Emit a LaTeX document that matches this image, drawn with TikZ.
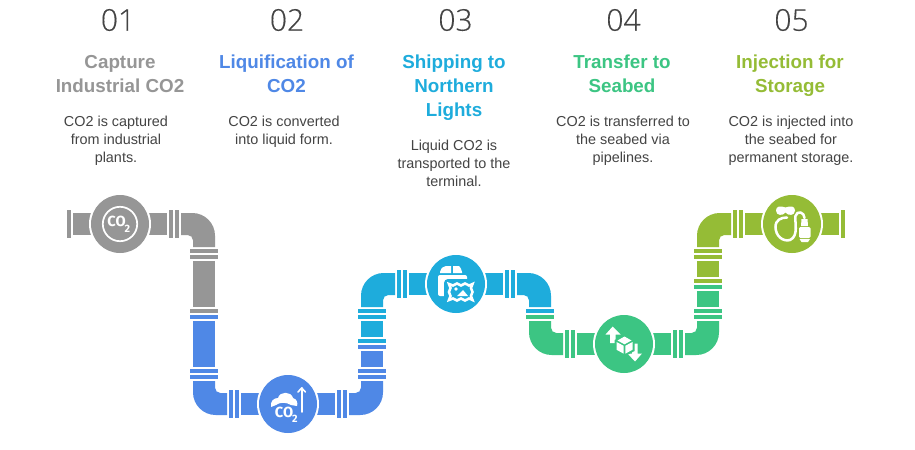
\documentclass[tikz,border=0pt]{standalone}
\usepackage{fontspec}
\setmainfont{Liberation Sans}
\newfontfamily\numfont[FakeBold=0.25]{Open Sans Light}
\newfontfamily\iconfont{Fira Sans}
\definecolor{cgray}{HTML}{969696}
\definecolor{cblue}{HTML}{4F88E6}
\definecolor{ccyan}{HTML}{1EACDC}
\definecolor{cgreen}{HTML}{3CC583}
\definecolor{colive}{HTML}{95BC36}
\definecolor{ctext}{HTML}{444444}
\tikzset{
  numtext/.style={text=ctext,font=\numfont\fontsize{22.5}{27}\selectfont,inner sep=0pt},
  titletext/.style={font=\bfseries\fontsize{14.1}{18}\selectfont,align=center,inner sep=0pt},
  bodytext/.style={text=ctext,font=\fontsize{10.8}{13.5}\selectfont,align=center,inner sep=0pt},
  icontext/.style={text=white,font=\iconfont\bfseries\fontsize{#1}{#1}\selectfont,inner sep=0pt},
  iconline/.style={draw=white,line width=1.35pt,line cap=round,line join=round},
}
% flange across a horizontal run (upright bar): left x, centre y
\newcommand{\flangeV}[3]{\fill[#3] (#1,#2-14) rectangle ++(4,28);}
% flange across a vertical run (flat bar): centre x, top y
\newcommand{\flangeH}[3]{\fill[#3] (#1-14,#2) rectangle ++(28,4);}
\newcommand{\pipehub}[3]{\fill[white] (#1,#2) circle[radius=31]; \fill[#3] (#1,#2) circle[radius=29];}
\begin{document}
\begin{tikzpicture}[x=0.75pt,y=-0.75pt]
\useasboundingbox (0,0) rectangle (915,450);
\fill[white] (0,0) rectangle (915,450);

% ---------- Gray section
\fill[cgray] (67,210) rectangle (71,238);
\fill[cgray] (73,213) rectangle (167,235);
\flangeV{169}{224}{cgray}\flangeV{175}{224}{cgray}
\fill[cgray] (181,213) {[rounded corners=17pt] -- (215,213)} -- (215,247) -- (193,247) {[rounded corners=4pt] -- (193,235)} -- (181,235) -- cycle;
\flangeH{204}{249}{cgray}\flangeH{204}{255}{cgray}
\fill[cgray] (193,261) rectangle (215,307);
\flangeH{204}{309}{cgray}
\pipehub{120}{224}{cgray}

% ---------- Blue section
\flangeH{204}{315}{cblue}
\fill[cblue] (193,321) rectangle (215,367);
\flangeH{204}{369}{cblue}\flangeH{204}{375}{cblue}
\fill[cblue] (193,381) {[rounded corners=17pt] -- (193,415)} -- (227,415) -- (227,393) {[rounded corners=4pt] -- (215,393)} -- (215,381) -- cycle;
\flangeV{229}{404}{cblue}\flangeV{235}{404}{cblue}
\fill[cblue] (241,393) rectangle (335,415);
\flangeV{337}{404}{cblue}\flangeV{343}{404}{cblue}
\fill[cblue] (349,393) {[rounded corners=4pt] -- (361,393)} -- (361,381) -- (383,381) {[rounded corners=17pt] -- (383,415)} -- (349,415) -- cycle;
\flangeH{372}{375}{cblue}\flangeH{372}{369}{cblue}
\fill[cblue] (361,351) rectangle (383,367);
\flangeH{372}{345}{cblue}
\pipehub{288}{404}{cblue}

% ---------- Cyan section
\flangeH{372}{339}{ccyan}
\fill[ccyan] (361,321) rectangle (383,337);
\flangeH{372}{315}{ccyan}\flangeH{372}{309}{ccyan}
\fill[ccyan] (361,307) {[rounded corners=17pt] -- (361,273)} -- (395,273) -- (395,295) {[rounded corners=4pt] -- (383,295)} -- (383,307) -- cycle;
\flangeV{397}{284}{ccyan}\flangeV{403}{284}{ccyan}
\fill[ccyan] (409,273) rectangle (503,295);
\flangeV{505}{284}{ccyan}\flangeV{511}{284}{ccyan}
\fill[ccyan] (517,273) {[rounded corners=17pt] -- (551,273)} -- (551,307) -- (529,307) {[rounded corners=4pt] -- (529,295)} -- (517,295) -- cycle;
\flangeH{540}{309}{ccyan}
\pipehub{456}{284}{ccyan}

% ---------- Green section
\flangeH{540}{315}{cgreen}
\fill[cgreen] (529,321) {[rounded corners=17pt] -- (529,355)} -- (563,355) -- (563,333) {[rounded corners=4pt] -- (551,333)} -- (551,321) -- cycle;
\flangeV{565}{344}{cgreen}\flangeV{571}{344}{cgreen}
\fill[cgreen] (577,333) rectangle (671,355);
\flangeV{673}{344}{cgreen}\flangeV{679}{344}{cgreen}
\fill[cgreen] (685,333) {[rounded corners=4pt] -- (697,333)} -- (697,321) -- (719,321) {[rounded corners=17pt] -- (719,355)} -- (685,355) -- cycle;
\flangeH{708}{315}{cgreen}\flangeH{708}{309}{cgreen}
\fill[cgreen] (697,291) rectangle (719,307);
\flangeH{708}{285}{cgreen}
\pipehub{624}{344}{cgreen}

% ---------- Olive section
\flangeH{708}{279}{colive}
\fill[colive] (697,261) rectangle (719,277);
\flangeH{708}{255}{colive}\flangeH{708}{249}{colive}
\fill[colive] (697,247) {[rounded corners=17pt] -- (697,213)} -- (731,213) -- (731,235) {[rounded corners=4pt] -- (719,235)} -- (719,247) -- cycle;
\flangeV{733}{224}{colive}\flangeV{739}{224}{colive}
\fill[colive] (745,213) rectangle (839,235);
\fill[colive] (841,210) rectangle (845,238);
\pipehub{792}{224}{colive}

% ---------- Icon 1: CO2 in ring
\draw[white,line width=1.3pt] (120,224) circle[radius=17.2];
\node[icontext=11] (ico1a) at (116.5,221) {CO};
\node[icontext=8] (ico1b) at (127.5,229) {2};

% ---------- Icon 2: cloud, CO2, arrow
\fill[white] (271,407) .. controls (270,401) and (274,398) .. (278,398)
  .. controls (280,391) and (291,391) .. (293,398)
  .. controls (297,399) and (298,403) .. (297,406)
  -- (291,405) .. controls (286,402) and (280,402) .. (276,405) -- cycle;
\node[icontext=11] (ico2a) at (284,412) {CO};
\node[icontext=8] (ico2b) at (295,419) {2};
\draw[iconline,line width=1.2pt] (301.7,412) -- (301.7,388);
\draw[iconline,line width=1.2pt] (298,392) -- (301.7,388) -- (305.4,392);

% ---------- Icon 3: box with wavy picture
\fill[white] (440,273) {[rounded corners=1.5pt] -- (440,270)} {[rounded corners=1.5pt] -- (444,266)} -- (451,266) -- (451,273) -- cycle;
\fill[white] (453,273) -- (453,266) -- (459,266) {[rounded corners=1.5pt] -- (462,270)} -- (462,273) -- cycle;
\fill[white,rounded corners=1.5pt] (438,275) rectangle (467,296);
\fill[ccyan,rounded corners=3pt] (444,279) rectangle (477,304);
\draw[white,line width=1.9pt,fill=ccyan] plot[smooth cycle,tension=0.7] coordinates {
 (449,284) (453,285.5) (457,283.5) (461,285.5) (465,283.5) (469,285.5) (472.5,284)
 (471,288) (472.5,292) (471,296) (472.5,300)
 (469,298.5) (465,300.5) (461,298.5) (457,300.5) (453,298.5) (449,300)
 (450.5,296) (449,292) (450.5,288)};
\fill[white] (456,289) circle[radius=1.8];
\fill[white] (457,296) -- (463,290) -- (468,296) -- cycle;

% ---------- Icon 4: arrows and cube
\fill[white] (612.7,326.5) -- (620.5,334.5) -- (615.5,334.5) -- (615.5,343) -- (610,343) -- (610,334.5) -- (605.5,334.5) -- cycle;
\fill[white] (635,361.5) -- (642,353.5) -- (637.5,353.5) -- (637.5,343.5) -- (632,343.5) -- (632,353.5) -- (627.5,353.5) -- cycle;
\fill[cgreen] (624.5,335) -- (634.5,340) -- (634.5,351) -- (624.5,356.5) -- (614.5,351) -- (614.5,340) -- cycle;
\fill[white,line join=round] (624.5,336.5) -- (631.5,340.5) -- (624.5,344.3) -- (617.5,340.5) -- cycle;
\fill[white] (616.5,342) -- (623.7,345.8) -- (623.7,353.7) -- (616.5,349.7) -- cycle;
\fill[white] (632.5,342) -- (625.3,345.8) -- (625.3,353.7) -- (632.5,349.7) -- cycle;

% ---------- Icon 5: mask, hose, tank
\fill[white] (776,210.5) .. controls (776,205.5) and (781,206) .. (785.5,207.5)
  .. controls (790,206) and (795,205.5) .. (795,210.5)
  .. controls (795,216) and (788,216) .. (785.5,212.5)
  .. controls (783,216) and (776,216) .. (776,210.5) -- cycle;
\draw[iconline,line width=1.9pt] (804.5,218) .. controls (804.5,212) and (797,210) .. (795.5,216)
  .. controls (794.5,222) and (799,236) .. (790,240)
  .. controls (783,242) and (775.5,236) .. (775.5,227)
  .. controls (775.5,220) and (781,217.5) .. (787,217.5);
\fill[white] (801.5,219) -- (807.5,219) -- (808,226) -- (801,226) -- cycle;
\fill[white,rounded corners=1pt] (799,227) rectangle (810.5,238);
\fill[white] (799.5,239) -- (810,239) -- (808,242) -- (801.5,242) -- cycle;

% ---------- Numbers
\node[numtext] (n1) at (118,20) {01};
\node[numtext] (n2) at (287,20) {02};
\node[numtext] (n3) at (455.5,20) {03};
\node[numtext] (n4) at (623.5,20) {04};
\node[numtext] (n5) at (791.5,20) {05};

% ---------- Titles
\node[titletext,text=cgray] (t1) at (120,74) {Capture\\Industrial CO2};
\node[titletext,text=cblue] (t2) at (286.5,74) {Liquification of\\CO2};
\node[titletext,text=ccyan] (t3) at (454,88) {Shipping to\\Northern\\Lights};
\node[titletext,text=cgreen] (t4) at (622,74) {Transfer to\\Seabed};
\node[titletext,text=colive] (t5) at (790,76) {Injection for\\Storage};

% ---------- Bodies
\node[bodytext] (b1) at (116,141) {CO2 is captured\\from industrial\\plants.};
\node[bodytext] (b2) at (284,132) {CO2 is converted\\into liquid form.};
\node[bodytext] (b3) at (454,163) {Liquid CO2 is\\transported to the\\terminal.};
\node[bodytext] (b4) at (623,141) {CO2 is transferred to\\the seabed via\\pipelines.};
\node[bodytext] (b5) at (791,141) {CO2 is injected into\\the seabed for\\permanent storage.};
\end{tikzpicture}
\end{document}
